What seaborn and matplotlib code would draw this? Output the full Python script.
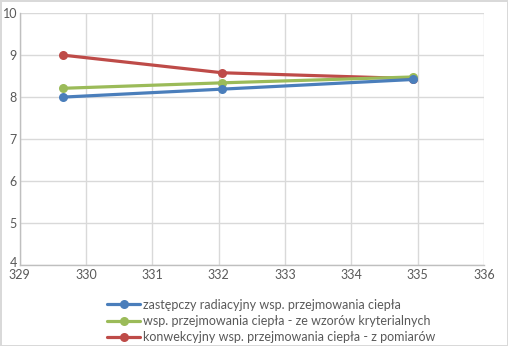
import matplotlib
matplotlib.use("Agg")
import matplotlib.pyplot as plt
import matplotlib.transforms as mtransforms
import seaborn as sns
import pandas as pd
from matplotlib.lines import Line2D

temps = [329.65, 332.05, 334.93]
radiacyjny = [8.00, 8.19, 8.42]
kryterialne = [8.21, 8.34, 8.48]
konwekcyjny = [9.00, 8.58, 8.44]
labels = [
    "zastępczy radiacyjny wsp. przejmowania ciepła",
    "wsp. przejmowania ciepła - ze wzorów kryterialnych",
    "konwekcyjny wsp. przejmowania ciepła - z pomiarów",
]
colors = ["#4a7ebb", "#9bbb59", "#be4b48"]

sns.set_theme(style="white")
plt.rcParams['font.family'] = ['Lato', 'DejaVu Sans']

fig = plt.figure(figsize=(5.08, 3.46), dpi=100)
fig.patch.set_edgecolor("#d9d9d9")
fig.patch.set_linewidth(1)
ax = fig.add_axes([0.039, 0.234, 0.914, 0.728])

frames = []
for lab, vals in zip(labels, [radiacyjny, kryterialne, konwekcyjny]):
    frames.append(pd.DataFrame({"T": temps, "alpha": vals, "seria": lab}))
df = pd.concat(frames, ignore_index=True)

sns.lineplot(data=df, x="T", y="alpha", hue="seria", palette=colors,
             hue_order=labels, marker="o", markersize=6.5, markeredgewidth=0,
             linewidth=2.3, ax=ax, legend=False)
for line, z in zip(ax.lines, [5, 4, 3]):
    line.set_zorder(z)

ax.set_xlim(329, 336)
ax.set_ylim(4, 10)
ax.set_xticks(range(329, 337))
ax.set_yticks(range(4, 11))
ax.grid(True, color="#d9d9d9", linewidth=1)
ax.set_axisbelow(True)
for s in ["top", "right"]:
    ax.spines[s].set_visible(False)
for s in ["left", "bottom"]:
    ax.spines[s].set_color("#bfbfbf")
    ax.spines[s].set_linewidth(1)
ax.tick_params(axis="both", labelsize=9, colors="#595959", length=0, pad=2)
ax.tick_params(axis="x", pad=3)
ax.set_xlabel("")
ax.set_ylabel("")

# nudge lowest y label up slightly so it does not collide with "329"
fig.canvas.draw()
ylab0 = ax.get_yticklabels()[0]
ylab0.set_transform(ylab0.get_transform() +
                    mtransforms.ScaledTranslation(0, 3 / 100, fig.dpi_scale_trans))

handles = [Line2D([], [], color=c, linewidth=2.3, marker="o", markersize=6.5,
                  markeredgewidth=0) for c in colors]
fig.legend(handles, labels, loc="upper left", bbox_to_anchor=(0.199, 0.155),
           frameon=False, fontsize=9, labelcolor="#595959", handlelength=2.6,
           handletextpad=0.25, labelspacing=0.35, borderpad=0)

fig.savefig("out.png", dpi=100)
